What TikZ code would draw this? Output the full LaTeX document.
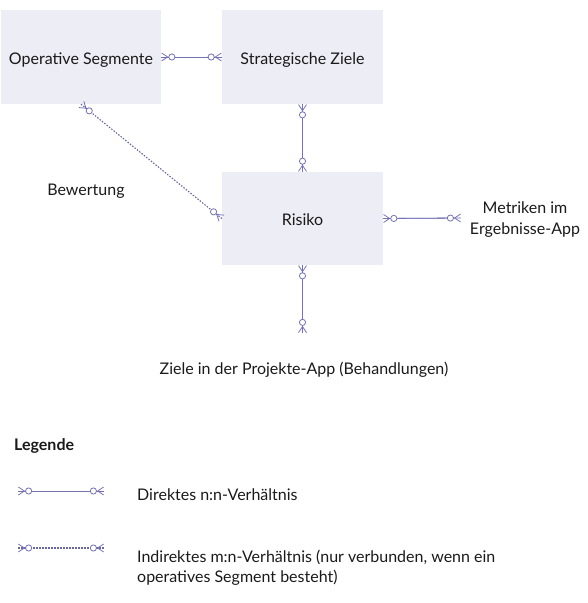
\documentclass[tikz,border=0pt]{standalone}
\usepackage{fontspec}
\setmainfont{Lato}
\usepackage{tikz}
\usetikzlibrary{arrows.meta,positioning}
\definecolor{relblue}{HTML}{7471B4}
\definecolor{boxfill}{HTML}{EDEDF5}
\definecolor{textdark}{HTML}{1A1A1A}
\tikzset{
  entity/.style={fill=boxfill, minimum width=160pt, minimum height=94pt,
    inner sep=2pt, text height=15pt, text depth=0pt,
    font=\fontsize{16}{20}\selectfont, text=textdark},
  lbl/.style={font=\fontsize{16}{20.5}\selectfont, text=textdark, inner sep=0pt},
  % crow's foot plus open circle at both ends
  relends/.style={
    {Straight Barb[reversed,length=6pt,width=8pt,line width=0.8pt] Circle[length=7pt,fill=white,line width=0.8pt]}-{Circle[length=7pt,fill=white,line width=0.8pt] Straight Barb[reversed,length=6pt,width=8pt,line width=0.8pt]},
    line width=0.8pt, color=relblue},
  rel/.style={relends,
    preaction={draw, -, line width=0.8pt, color=relblue}},
  relind/.style={relends, dash pattern=on 0pt off 2000pt,
    preaction={draw, -, line width=1.1pt, color=relblue!90!black, dash pattern=on 1.5pt off 1.5pt}},
}

\begin{document}
\begin{tikzpicture}[x=1pt,y=1pt]
  \useasboundingbox (0,0) rectangle (588,603);
  % entities
  \node[entity] (seg) at (81,546) {Operative Segmente};
  \node[entity, minimum width=161pt] (goal) at (302.5,546) {Strategische Ziele};
  \node[entity, minimum width=161pt, minimum height=93pt] (risk) at (302.5,384.5) {Risiko};
  % outside labels
  \node[lbl] (eval) at (86,412) {Bewertung};
  \node[lbl, align=center] (metr) at (525,383.5) {Metriken im\\Ergebnisse-App};
  \node[lbl] (proj) at (304,233) {Ziele in der Projekte-App (Behandlungen)};
  \coordinate (metrend) at (461,385);
  \coordinate (projend) at (302.5,270);
  % relations
  \draw[rel] (seg) -- (goal);
  \draw[rel] (goal) -- (risk);
  \draw[relind] (seg.south) -- (risk.west);
  \draw[rel] (risk.east) -- (metrend);
  \draw[rel] (risk.south) -- (projend);
  % legend
  \node[lbl, anchor=west, font=\fontsize{16}{20}\selectfont\bfseries] (leg) at (14,157) {Legende};
  \coordinate (la) at (18,112);
  \coordinate (lb) at (104,112);
  \coordinate (lc) at (18,55);
  \coordinate (ld) at (104,55);
  \draw[rel] (la) -- (lb);
  \draw[relind] (lc) -- (ld);
  \node[lbl, anchor=west] (legdir) at (137,108) {Direktes n:n-Verhältnis};
  \node[lbl, anchor=west, align=left] (legind) at (137,35)
    {Indirektes m:n-Verhältnis (nur verbunden, wenn ein\\operatives Segment besteht)};
\end{tikzpicture}
\end{document}
